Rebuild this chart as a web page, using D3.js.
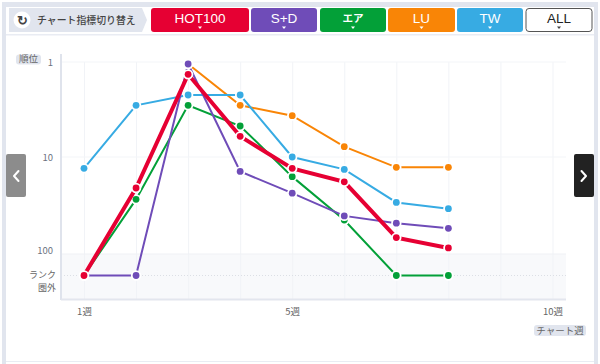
<!DOCTYPE html>
<html>
<head>
<meta charset="utf-8">
<script src="https://cdn.jsdelivr.net/npm/d3@7"></script>
<style>
html, body { margin: 0; padding: 0; background: #fff; }
svg { display: block; font-family: "Noto Sans CJK JP", "Noto Sans", sans-serif; }
</style>
</head>
<body>
<div id="chart"></div>
<script>
var w = 600;
var h = 364;

// 125 = ランク圏外
var OUT = 125;

var weeks = [1, 2, 3, 4, 5, 6, 7, 8];
var weekGrid = [1, 2, 3, 4, 5, 6, 7, 8, 9, 10];
var weekTicks = [1, 5, 10];
var rankTicks = [1, 10, 100];

var orange = [null, null, 1, 5, 6, 9, 20, 20];
var skyblue = [21, 5, 4, 4, 10, 22, 54, 60];
var green = [OUT, 51, 5, 7, 29, 71, OUT, OUT];
var purple = [OUT, OUT, 1, 24, 45, 67, 74, 79];
var red = [OUT, 40, 2, 8, 21, 34, 88, 98];

var seriesNames = ["LU", "TW", "エア", "S+D", "HOT100"];
var seriesValues = [orange, skyblue, green, purple, red];
var seriesColors = ["#f98506", "#37abe3", "#03a038", "#6f4cb8", "#e60033"];
var seriesWidths = [2, 2, 2, 2, 4];

var buttonNames = ["HOT100", "S+D", "エア", "LU", "TW", "ALL"];
var buttonColors = ["#e60033", "#6f4cb8", "#03a038", "#f98506", "#37abe3", "#fff"];
var buttonLefts = [151, 251, 320, 388, 457, 526];
var buttonWidths = [98, 66, 66, 67, 66, 66];

var x = d3.scaleLinear().domain([1, 10]).range([84, 552.5]);
var y = d3.scaleLinear().domain([1, 10, 100, OUT]).range([64, 157, 250, 275.5]);

var plotLeft = 61, plotRight = 566, plotTop = 54, plotBottom = 299, bandTop = 254;

var svg = d3.select("#chart")
    .append("svg")
    .attr("width", w)
    .attr("height", h);

// frame
var frame = "#e1e5ee";
svg.append("rect").attr("x", 2).attr("y", 2).attr("width", 596).attr("height", 5).attr("fill", frame);
svg.append("rect").attr("x", 2).attr("y", 2).attr("width", 4).attr("height", 362).attr("fill", frame);
svg.append("rect").attr("x", 594).attr("y", 2).attr("width", 4).attr("height", 362).attr("fill", frame);
svg.append("rect").attr("x", 6).attr("y", 34).attr("width", 588).attr("height", 1.5).attr("fill", "#e9ecf3");
svg.append("rect").attr("x", 6).attr("y", 361).attr("width", 588).attr("height", 1).attr("fill", "#e9ecf3");

// header
svg.append("path")
    .attr("d", "M9,8H142L147,20L142,32H9Z")
    .attr("fill", "#e1e5ee");
svg.append("circle").attr("cx", 22).attr("cy", 20).attr("r", 8.5).attr("fill", "#fff");
svg.append("text").attr("x", 22).attr("y", 24.5)
    .attr("text-anchor", "middle").attr("font-size", 13).attr("font-weight", 700)
    .attr("fill", "#444").text("↻");
svg.append("text").attr("x", 37).attr("y", 24)
    .attr("font-size", 9.9).attr("font-weight", 500)
    .attr("fill", "#444").text("チャート指標切り替え");

buttonNames.forEach(function(name, i) {
    var isAll = name === "ALL";
    var isKana = name === "エア";
    var cx = buttonLefts[i] + buttonWidths[i] / 2;
    svg.append("rect")
        .attr("x", buttonLefts[i]).attr("y", isAll ? 8.5 : 8)
        .attr("width", buttonWidths[i]).attr("height", isAll ? 23 : 24)
        .attr("rx", 3)
        .attr("fill", buttonColors[i])
        .attr("stroke", isAll ? "#555" : "none")
        .attr("stroke-width", 1);
    svg.append("text")
        .attr("x", cx).attr("y", isKana ? 21.5 : 22.5)
        .attr("text-anchor", "middle")
        .attr("font-family", isKana ? "Noto Sans CJK JP" : "Liberation Sans")
        .attr("font-size", isKana ? 10.5 : 13.5)
        .attr("font-weight", isKana ? 700 : 400)
        .attr("fill", isAll ? "#222" : "#fff")
        .text(name);
    svg.append("path")
        .attr("d", "M" + (cx - 2) + ",26.5H" + (cx + 2) + "L" + cx + ",29Z")
        .attr("fill", isAll ? "#444" : "#fff");
});

// plot background
svg.append("rect")
    .attr("x", plotLeft).attr("y", bandTop)
    .attr("width", plotRight - plotLeft).attr("height", plotBottom - bandTop)
    .attr("fill", "#f8f9fb");

// grid
var gridX = svg.append("g")
    .attr("transform", "translate(0," + plotBottom + ")")
    .call(d3.axisBottom(x).tickValues(weekGrid).tickSize(-(plotBottom - 62)).tickFormat(""));
gridX.select(".domain").remove();
gridX.selectAll("line").attr("stroke", "#f1f3f7").attr("stroke-width", 1);

svg.append("line").attr("x1", plotLeft).attr("x2", plotRight).attr("y1", 62).attr("y2", 62).attr("stroke", "#f3f5f8");
svg.append("line").attr("x1", plotLeft).attr("x2", plotRight).attr("y1", y(10)).attr("y2", y(10)).attr("stroke", "#f3f5f8");
svg.append("line").attr("x1", plotLeft).attr("x2", plotRight).attr("y1", bandTop).attr("y2", bandTop).attr("stroke", "#eff1f5");
svg.append("line").attr("x1", plotLeft).attr("x2", plotRight).attr("y1", y(OUT)).attr("y2", y(OUT))
    .attr("stroke", "#dcdfe5").attr("stroke-dasharray", "1,2");

// axes
svg.append("line").attr("x1", plotLeft).attr("x2", plotLeft).attr("y1", plotTop).attr("y2", plotBottom + 1)
    .attr("stroke", "#dfe3ec").attr("stroke-width", 2);
svg.append("line").attr("x1", plotLeft).attr("x2", plotRight).attr("y1", plotBottom + 0.5).attr("y2", plotBottom + 0.5)
    .attr("stroke", "#e3e6ee").attr("stroke-width", 2);

var xAxis = svg.append("g")
    .attr("transform", "translate(0,305)")
    .call(d3.axisBottom(x).tickValues(weekTicks).tickSize(0).tickFormat(function(d) { return d + "週"; }));
xAxis.select(".domain").remove();
xAxis.selectAll("text").attr("font-size", 9.5).attr("fill", "#666")
    .attr("font-family", "Noto Sans CJK JP");

var yAxis = svg.append("g")
    .attr("transform", "translate(" + (plotLeft - 8) + ",0)")
    .call(d3.axisLeft(y).tickValues(rankTicks).tickSize(0).tickFormat(d3.format("d")));
yAxis.select(".domain").remove();
yAxis.selectAll("text").attr("font-size", 9.5).attr("fill", "#6b7280").attr("x", 0)
    .attr("font-family", "Noto Sans CJK JP");
yAxis.selectAll(".tick").filter(function(d) { return d === 1; }).select("text").attr("y", -2);

// two line label
var outLabel = svg.append("text").attr("text-anchor", "end")
    .attr("font-size", 9).attr("fill", "#666");
outLabel.append("tspan").attr("x", 56).attr("y", 278).text("ランク");
outLabel.append("tspan").attr("x", 56).attr("y", 291).text("圏外");

// pills
function pill(px, py, pw, ph, label) {
    svg.append("rect").attr("x", px).attr("y", py).attr("width", pw).attr("height", ph)
        .attr("rx", 3).attr("fill", "#e1e5ee");
    svg.append("text").attr("x", px + pw / 2).attr("y", py + ph - 2.5)
        .attr("text-anchor", "middle").attr("font-size", 9.5).attr("fill", "#666").text(label);
}
pill(16, 54.5, 25, 10, "順位");
pill(534, 325, 52, 11, "チャート週");

// series
var line = d3.line()
    .defined(function(d) { return d.rank !== null; })
    .x(function(d) { return x(d.week); })
    .y(function(d) { return y(d.rank); });

seriesValues.forEach(function(values, i) {
    var pts = weeks.map(function(wk, j) { return { week: wk, rank: values[j] }; });
    var g = svg.append("g").attr("class", "series").attr("data-name", seriesNames[i]);
    g.append("path")
        .datum(pts)
        .attr("d", line)
        .attr("fill", "none")
        .attr("stroke", seriesColors[i])
        .attr("stroke-width", seriesWidths[i]);
    g.selectAll("circle")
        .data(pts.filter(function(d) { return d.rank !== null; }))
        .enter()
        .append("circle")
        .attr("cx", function(d) { return x(d.week); })
        .attr("cy", function(d) { return y(d.rank); })
        .attr("r", 3.4)
        .attr("fill", seriesColors[i])
        .attr("stroke", "#fff")
        .attr("stroke-width", 3.6)
        .attr("paint-order", "stroke");
});

// page arrows
function navButton(px, color, chevron) {
    svg.append("rect").attr("x", px).attr("y", 154).attr("width", 20).attr("height", 43)
        .attr("rx", 2).attr("fill", color);
    svg.append("path").attr("d", chevron).attr("fill", "none").attr("stroke", "#fff")
        .attr("stroke-width", 2).attr("stroke-linecap", "round").attr("stroke-linejoin", "round");
}
navButton(6, "#8c8c8c", "M18.5,171L14,176L18.5,181");
navButton(574, "#222", "M581.5,171L586,176L581.5,181");
</script>
</body>
</html>
